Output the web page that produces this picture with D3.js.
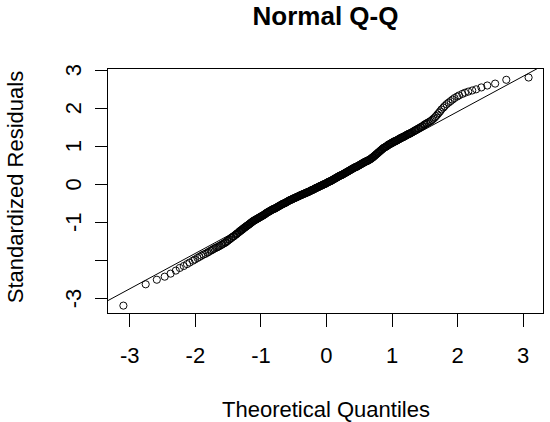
<!DOCTYPE html>
<html><head><meta charset="utf-8">
<script src="https://cdn.jsdelivr.net/npm/d3@7/dist/d3.min.js"></script>
<style>body{margin:0;background:#fff}svg{display:block}</style>
</head><body>
<svg id="c" width="550" height="422"></svg>
<script>
// ---- data ----
const chartTitle = "Normal Q-Q";
const xTitle = "Theoretical Quantiles";
const yTitle = "Standardized Residuals";
const xTicks = [-3, -2, -1, 0, 1, 2, 3];
const xTickLabels = ["-3", "-2", "-1", "0", "1", "2", "3"];
const yTicks = [-3, -2, -1, 0, 1, 2, 3];
const yTickLabels = ["-3", "", "-1", "0", "1", "2", "3"];

const theoreticalLow = [
-3.09,-2.75,-2.58,-2.46,-2.37,-2.29,-2.23,-2.17,-2.12,-2.08,
-2.03,-2.00,-1.96,-1.93,-1.90,-1.87,-1.84,-1.81,-1.79,-1.76,
-1.74,-1.72,-1.70,-1.68,-1.66,-1.64,-1.62,-1.60,-1.58,-1.56,
-1.54,-1.53,-1.51,-1.50,-1.48,-1.47,-1.45,-1.44,-1.42,-1.41,
-1.40,-1.38,-1.37,-1.36,-1.35,-1.33,-1.32,-1.31];
const residualLow = [
-3.20,-2.64,-2.52,-2.44,-2.36,-2.28,-2.21,-2.16,-2.11,-2.07,
-2.02,-1.99,-1.95,-1.92,-1.89,-1.86,-1.84,-1.81,-1.79,-1.76,
-1.74,-1.72,-1.70,-1.68,-1.67,-1.65,-1.63,-1.61,-1.59,-1.57,
-1.55,-1.54,-1.51,-1.50,-1.47,-1.46,-1.43,-1.42,-1.39,-1.38,
-1.37,-1.34,-1.33,-1.31,-1.30,-1.27,-1.26,-1.24];

const theoreticalMid = [
-1.30,-1.29,-1.28,-1.27,-1.26,-1.25,-1.24,-1.23,-1.22,-1.21,
-1.20,-1.19,-1.18,-1.17,-1.16,-1.15,-1.14,-1.13,-1.12,-1.11,
-1.10,-1.09,-1.08,-1.07,-1.06,-1.05,-1.04,-1.03,-1.02,-1.01,
-1.00,-0.99,-0.98,-0.97,-0.96,-0.95,-0.94,-0.93,-0.92,-0.91,
-0.90,-0.89,-0.88,-0.87,-0.86,-0.85,-0.84,-0.83,-0.82,-0.81,
-0.80,-0.79,-0.78,-0.77,-0.76,-0.75,-0.74,-0.73,-0.72,-0.71,
-0.70,-0.69,-0.68,-0.67,-0.66,-0.65,-0.64,-0.63,-0.62,-0.61,
-0.60,-0.59,-0.58,-0.57,-0.56,-0.55,-0.54,-0.53,-0.52,-0.51,
-0.50,-0.49,-0.48,-0.47,-0.46,-0.45,-0.44,-0.43,-0.42,-0.41,
-0.40,-0.39,-0.38,-0.37,-0.36,-0.35,-0.34,-0.33,-0.32,-0.31,
-0.30,-0.29,-0.28,-0.27,-0.26,-0.25,-0.24,-0.23,-0.22,-0.21,
-0.20,-0.19,-0.18,-0.17,-0.16,-0.15,-0.14,-0.13,-0.12,-0.11,
-0.10,-0.09,-0.08,-0.07,-0.06,-0.05,-0.04,-0.03,-0.02,-0.01,
0.00,0.01,0.02,0.03,0.04,0.05,0.06,0.07,0.08,0.09,
0.10,0.11,0.12,0.13,0.14,0.15,0.16,0.17,0.18,0.19,
0.20,0.21,0.22,0.23,0.24,0.25,0.26,0.27,0.28,0.29,
0.30,0.31,0.32,0.33,0.34,0.35,0.36,0.37,0.38,0.39,
0.40,0.41,0.42,0.43,0.44,0.45,0.46,0.47,0.48,0.49,
0.50,0.51,0.52,0.53,0.54,0.55,0.56,0.57,0.58,0.59,
0.60,0.61,0.62,0.63,0.64,0.65,0.66,0.67,0.68,0.69,
0.70,0.71,0.72,0.73,0.74,0.75,0.76,0.77,0.78,0.79,
0.80,0.81,0.82,0.83,0.84,0.85,0.86,0.87,0.88,0.89,
0.90,0.91,0.92,0.93,0.94,0.95,0.96,0.97,0.98,0.99,
1.00,1.01,1.02,1.03,1.04,1.05,1.06,1.07,1.08,1.09,
1.10,1.11,1.12,1.13,1.14,1.15,1.16,1.17,1.18,1.19,
1.20,1.21,1.22,1.23,1.24,1.25,1.26,1.27,1.28,1.29,
1.30];
const residualMid = [
-1.23,-1.22,-1.20,-1.19,-1.18,-1.16,-1.15,-1.14,-1.12,-1.11,
-1.10,-1.09,-1.07,-1.06,-1.05,-1.03,-1.02,-1.01,-0.99,-0.98,
-0.97,-0.96,-0.95,-0.94,-0.93,-0.92,-0.91,-0.90,-0.89,-0.88,
-0.87,-0.86,-0.85,-0.84,-0.83,-0.82,-0.81,-0.80,-0.78,-0.77,
-0.76,-0.75,-0.74,-0.73,-0.72,-0.71,-0.70,-0.69,-0.68,-0.67,
-0.66,-0.66,-0.65,-0.64,-0.63,-0.62,-0.61,-0.60,-0.59,-0.58,
-0.57,-0.56,-0.55,-0.54,-0.53,-0.52,-0.52,-0.51,-0.50,-0.49,
-0.48,-0.47,-0.46,-0.45,-0.44,-0.43,-0.42,-0.42,-0.41,-0.40,
-0.39,-0.38,-0.38,-0.37,-0.36,-0.35,-0.34,-0.34,-0.33,-0.32,
-0.31,-0.30,-0.30,-0.29,-0.28,-0.27,-0.27,-0.26,-0.25,-0.24,
-0.24,-0.23,-0.22,-0.21,-0.21,-0.20,-0.19,-0.18,-0.17,-0.16,
-0.16,-0.15,-0.14,-0.13,-0.12,-0.11,-0.10,-0.10,-0.09,-0.08,
-0.07,-0.06,-0.05,-0.05,-0.04,-0.03,-0.02,-0.01,-0.01,0.00,
0.01,0.02,0.03,0.04,0.05,0.06,0.06,0.07,0.08,0.09,
0.10,0.11,0.12,0.13,0.14,0.15,0.16,0.17,0.18,0.19,
0.20,0.21,0.22,0.22,0.23,0.24,0.25,0.26,0.27,0.28,
0.29,0.30,0.31,0.32,0.33,0.34,0.35,0.36,0.37,0.38,
0.39,0.40,0.41,0.42,0.43,0.44,0.44,0.45,0.46,0.47,
0.48,0.49,0.50,0.51,0.52,0.53,0.54,0.55,0.56,0.57,
0.58,0.59,0.59,0.60,0.61,0.62,0.63,0.64,0.65,0.66,
0.68,0.69,0.70,0.72,0.73,0.75,0.76,0.78,0.79,0.81,
0.82,0.84,0.85,0.87,0.88,0.90,0.91,0.93,0.94,0.95,
0.96,0.97,0.98,0.99,1.01,1.02,1.03,1.04,1.05,1.06,
1.07,1.08,1.09,1.10,1.11,1.12,1.12,1.13,1.14,1.15,
1.16,1.17,1.18,1.19,1.20,1.21,1.22,1.22,1.23,1.24,
1.25,1.26,1.27,1.28,1.29,1.30,1.31,1.31,1.32,1.33,
1.34];

const theoreticalHigh = [
1.31,1.32,1.34,1.35,1.36,1.37,1.38,1.40,1.41,1.42,
1.44,1.45,1.47,1.48,1.50,1.51,1.53,1.54,1.56,1.58,
1.60,1.62,1.64,1.66,1.68,1.70,1.72,1.74,1.76,1.79,
1.81,1.84,1.87,1.90,1.93,1.96,2.00,2.03,2.08,2.12,
2.17,2.23,2.29,2.37,2.46,2.58,2.75,3.09];
const residualHigh = [
1.35,1.36,1.38,1.39,1.40,1.41,1.42,1.44,1.45,1.46,
1.48,1.49,1.51,1.52,1.55,1.56,1.58,1.59,1.61,1.63,
1.65,1.68,1.71,1.74,1.78,1.82,1.86,1.90,1.95,2.00,
2.04,2.09,2.13,2.17,2.21,2.25,2.29,2.32,2.36,2.39,
2.42,2.45,2.48,2.53,2.58,2.63,2.73,2.79];

// reference line through the quartiles (qqline)
const qqLineTheoretical = [-0.674, 0.674];
const qqLineResidual = [-0.601, 0.653];

// ---- drawing ----
const theoretical = theoreticalLow.concat(theoreticalMid, theoreticalHigh);
const residuals = residualLow.concat(residualMid, residualHigh);
const points = theoretical.map((q, i) => ({q, r: residuals[i]}));

const FONT = "'Liberation Sans', Arial, Helvetica, sans-serif";
const L = 107, R = 544, T = 68.3, B = 314.3;
const svg = d3.select("#c");
const x = d3.scaleLinear().domain([-3.340, 3.325]).range([L, R]);
const y = d3.scaleLinear().domain([-3.428, 3.032]).range([B, T]);

svg.append("defs").append("clipPath").attr("id", "plotclip")
  .append("rect").attr("x", L).attr("y", T).attr("width", R - L).attr("height", B - T);

// points
svg.append("g").selectAll("circle").data(points).join("circle")
  .attr("cx", d => x(d.q)).attr("cy", d => y(d.r)).attr("r", 3.6)
  .attr("fill", "none").attr("stroke", "#000").attr("stroke-width", 0.95);

// qq line
const slope = (qqLineResidual[1] - qqLineResidual[0]) / (qqLineTheoretical[1] - qqLineTheoretical[0]);
const intercept = qqLineResidual[0] - slope * qqLineTheoretical[0];
const [x0, x1] = x.domain();
svg.append("line").attr("clip-path", "url(#plotclip)")
  .attr("x1", x(x0)).attr("y1", y(intercept + slope * x0))
  .attr("x2", x(x1)).attr("y2", y(intercept + slope * x1))
  .attr("stroke", "#000").attr("stroke-width", 1);

// box
svg.append("rect").attr("x", L + 0.5).attr("y", T + 0.5)
  .attr("width", R - L - 1).attr("height", B - T - 1)
  .attr("fill", "none").attr("stroke", "#000").attr("stroke-width", 1)
  .attr("shape-rendering", "crispEdges");

// x axis
const gx = svg.append("g").attr("transform", `translate(0,${B - 0.5})`)
  .call(d3.axisBottom(x).tickValues(xTicks).tickSize(13)
    .tickFormat((d, i) => xTickLabels[i]));
gx.select(".domain").remove();
gx.selectAll(".tick line").attr("stroke", "#000").attr("shape-rendering", "crispEdges");
gx.selectAll(".tick text").attr("y", 49.5).attr("dy", null)
  .attr("font-size", 22).attr("font-family", FONT).attr("fill", "#000");

// y axis
const gy = svg.append("g").attr("transform", `translate(${L + 0.5},0)`)
  .call(d3.axisLeft(y).tickValues(yTicks).tickSize(12.5)
    .tickFormat((d, i) => yTickLabels[i]));
gy.select(".domain").remove();
gy.selectAll(".tick line").attr("stroke", "#000").attr("shape-rendering", "crispEdges");
gy.selectAll(".tick text")
  .attr("transform", "rotate(-90)").attr("x", 0).attr("y", -27).attr("dy", null)
  .attr("text-anchor", "middle")
  .attr("font-size", 22).attr("font-family", FONT).attr("fill", "#000");

// titles
svg.append("text").attr("x", (L + R) / 2).attr("y", 25)
  .attr("text-anchor", "middle").attr("font-family", FONT)
  .attr("font-size", 26).attr("font-weight", "bold").text(chartTitle);
svg.append("text").attr("x", (L + R) / 2 + 0.5).attr("y", 416.5)
  .attr("text-anchor", "middle").attr("font-family", FONT)
  .attr("font-size", 22).text(xTitle);
svg.append("text").attr("transform", "translate(23,187) rotate(-90)")
  .attr("text-anchor", "middle").attr("font-family", FONT)
  .attr("font-size", 22).text(yTitle);
</script>
</body></html>
